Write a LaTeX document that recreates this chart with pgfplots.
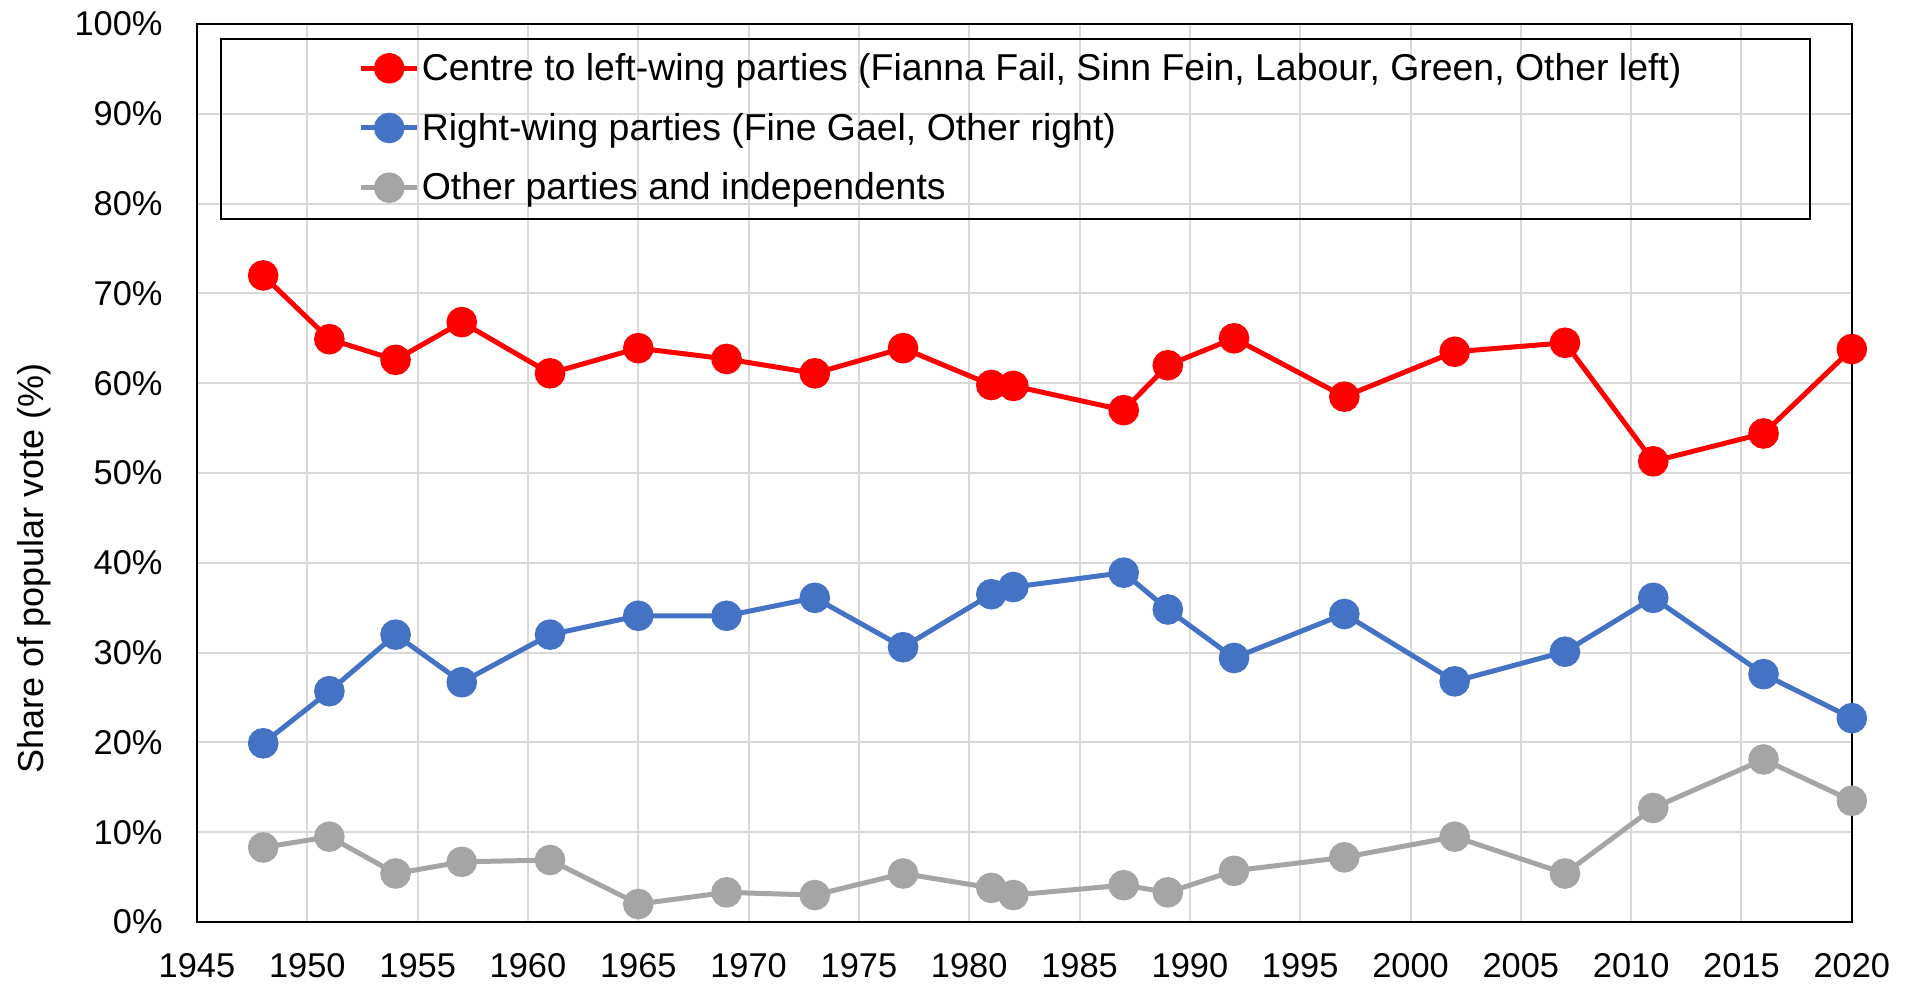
\documentclass[border=0pt]{standalone}
\usepackage{fontspec}
\setmainfont{Liberation Sans}
\usepackage{pgfplots}
\pgfplotsset{compat=1.18}
\definecolor{cred}{HTML}{FF0000}
\definecolor{cblue}{HTML}{4472C4}
\definecolor{cgray}{HTML}{A5A5A5}
\definecolor{cgrid}{HTML}{D9D9D9}
\pgfplotstableread{
year red blue gray
1948 72.0 19.9 8.3
1951 64.9 25.7 9.5
1954 62.6 32.0 5.4
1957 66.8 26.7 6.7
1961 61.1 32.0 6.9
1965 63.9 34.1 2.0
1969 62.7 34.1 3.3
1973 61.1 36.1 3.0
1977 63.9 30.6 5.4
1981 59.8 36.5 3.8
1982 59.7 37.3 3.0
1987 57.0 38.9 4.1
1989 62.0 34.8 3.3
1992 65.0 29.4 5.7
1997 58.5 34.3 7.2
2002 63.5 26.8 9.5
2007 64.5 30.1 5.4
2011 51.3 36.1 12.7
2016 54.4 27.6 18.1
2020 63.8 22.7 13.5
}\datatable
\begin{document}
\begin{tikzpicture}
\path (-98.5pt,-32pt) rectangle (859.5pt,461pt);
\begin{axis}[
 at={(0,0)}, anchor=south west,
 scale only axis, width=827.4pt, height=449pt,
 xmin=1945, xmax=2020, ymin=0, ymax=100,
 xtick={1945,1950,...,2020}, ytick={0,10,...,100},
 grid=major, major grid style={cgrid, line width=1pt},
 axis line style={black, line width=1pt},
 tick style={draw=none},
 clip=false,
 /pgf/number format/assume math mode=true,
 /pgf/number format/1000 sep={},
 yticklabel={\pgfmathprintnumber{\tick}\%},
 ticklabel style={font=\fontsize{17.2}{20}\selectfont},
 yticklabel style={inner sep=0pt, xshift=-17pt},
 xticklabel style={inner sep=0pt, yshift=-15.5pt},
 legend cell align=left,
 legend style={draw=none, fill=none, at={(axis description cs:0.0975,0.8842)}, anchor=west,
   font=\fontsize{18.7}{22}\selectfont, inner sep=0pt, row sep=10.8pt,
   nodes={inner xsep=1pt, inner ysep=2pt}},
 legend image code/.code={\draw[mark repeat=2,mark phase=2] plot coordinates {(0pt,0pt) (14pt,0pt) (28pt,0pt)};},
 every axis plot/.append style={line width=2.5pt, mark=*, mark size=6.4pt, mark options={solid}},
]
\draw[black, line width=1pt] (axis description cs:0.0145,0.9833) rectangle (axis description cs:0.9748,0.7829);
\addplot[color=cred] table[x=year,y=red] {\datatable};
\addlegendentry{Centre to left-wing parties (Fianna Fail, Sinn Fein, Labour, Green, Other left)}
\addplot[color=cblue] table[x=year,y=blue] {\datatable};
\addlegendentry{Right-wing parties (Fine Gael, Other right)}
\addplot[color=cgray] table[x=year,y=gray] {\datatable};
\addlegendentry{Other parties and independents}
\node[rotate=90, font=\fontsize{18}{21}\selectfont] at (axis description cs:-0.0985,0.394) {Share of popular vote (\%)};
\end{axis}
\end{tikzpicture}
\end{document}
